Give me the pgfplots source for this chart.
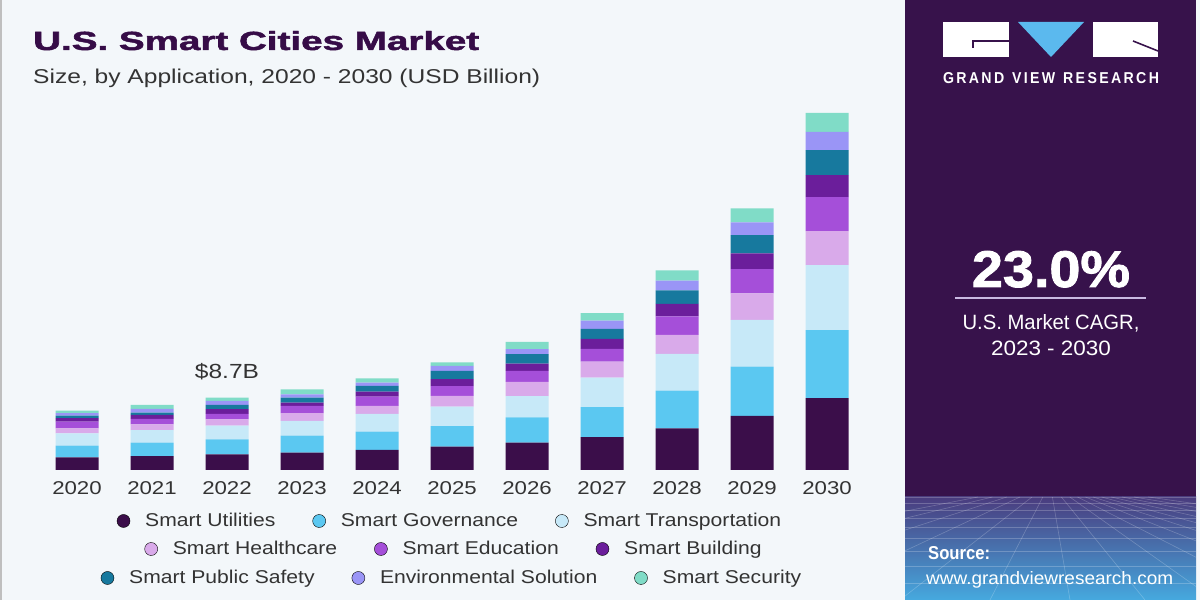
\documentclass[border=0pt]{standalone}
\usepackage{fontspec}
\setmainfont{Liberation Sans}
\newfontfamily\tickfont{Liberation Sans}[FakeStretch=1.2]
\newfontfamily\legfont{Liberation Sans}[FakeStretch=1.14]
\newfontfamily\heavyfont{Liberation Sans Bold}[FakeBold=1.6]
\usepackage{graphicx}
\usepackage{pgfplots}
\pgfplotsset{compat=1.18}
\usepackage{pgfplotstable}

\definecolor{bgleft}{HTML}{F3F7FA}
\definecolor{panel}{HTML}{37124B}
\definecolor{titlec}{HTML}{360C47}
\definecolor{txt}{HTML}{333333}
\definecolor{cUtil}{HTML}{3B0E4A}
\definecolor{cGov}{HTML}{5BC8F1}
\definecolor{cTrans}{HTML}{C7E9F8}
\definecolor{cHealth}{HTML}{D9AAEA}
\definecolor{cEdu}{HTML}{A54FD9}
\definecolor{cBuild}{HTML}{6B1E9B}
\definecolor{cPS}{HTML}{17799E}
\definecolor{cEnv}{HTML}{9A95F6}
\definecolor{cSec}{HTML}{80DCC7}
\definecolor{tri}{HTML}{5BB9EE}
\definecolor{gridtop}{HTML}{4A3C7E}
\definecolor{gridbot}{HTML}{46A9DF}
\definecolor{lineC}{HTML}{C9B9E2}

\pgfplotstableread{
x  util gov  trans health edu  build ps   env  sec
0  1.53 1.41 1.48  0.60   0.81 0.40  0.32 0.28 0.32
1  1.68 1.60 1.53  0.69   0.64 0.48  0.28 0.45 0.48
2  1.89 1.80 1.65  0.76   0.64 0.57  0.52 0.48 0.40
3  2.08 2.05 1.77  0.93   0.88 0.40  0.60 0.40 0.60
4  2.41 2.20 2.13  0.96   1.12 0.60  0.69 0.40 0.52
5  2.80 2.49 2.32  1.32   1.17 0.84  1.00 0.60 0.40
6  3.29 3.04 2.56  1.72   1.32 0.88  1.12 0.60 0.88
7  3.94 3.61 3.57  1.93   1.53 1.20  1.20 1.00 0.88
8  5.02 4.54 4.42  2.29   2.20 1.53  1.60 1.17 1.24
9  6.50 5.93 5.62  3.21   2.92 1.89  2.20 1.53 1.68
10 8.66 8.18 7.82  4.09   4.09 2.65  3.01 2.17 2.29
}\datatable

\pgfplotsset{
  legrow/.style={
    hide axis, scale only axis, width=10bp, height=10bp,
    xmin=0, xmax=1, ymin=0, ymax=1, anchor=center,
    legend style={at={(0.5,0.5)}, anchor=center, draw=none, fill=none,
      legend columns=3, font=\legfont\fontsize{18.6}{20}\selectfont, text=txt,
      /tikz/every even column/.append style={column sep=35bp},
      /tikz/every odd column/.append style={column sep=13bp}},
    legend image code/.code={\fill[##1] (6bp,0bp) circle (6.5bp);}
  }
}

\begin{document}
\begin{tikzpicture}[x=1bp,y=1bp]
% backgrounds
\fill[bgleft] (0,0) rectangle (1200,600);
\fill[black!25] (0,0) rectangle (2,600);
\fill[panel] (905,0) rectangle (1196,600);
\shade[top color=gridtop, bottom color=gridbot] (905,0) rectangle (1196,103);
\begin{scope}
\clip (905,0) rectangle (1196,103);
\foreach \yy in {103,97,90,82,73,62,49,34,17}
  \draw[white, opacity=0.22, line width=0.6bp] (905,\yy) -- (1196,\yy);
\foreach \xx in {-600,-480,-360,-250,-150,-60,20,95,165,230,295,360,430,510,600,700,820}
  \draw[white, opacity=0.22, line width=0.6bp] (1050+\xx*0.12,103) -- (1050+\xx,0);
\end{scope}

% titles
\node[anchor=base west, inner sep=0, text=titlec] at (33,550) {\resizebox{446bp}{19bp}{\heavyfont U.S. Smart Cities Market}};
\node[anchor=base west, inner sep=0, text=txt] at (33,516) {\resizebox{507bp}{14.5bp}{Size, by Application, 2020 - 2030 (USD Billion)}};

% logo
\fill[white] (943,578) rectangle (1009,543);
\draw[panel, line width=1.6bp] (973,552) -- (973,559) -- (1009,559);
\fill[tri] (1018,578) -- (1084,578) -- (1051,543) -- cycle;
\fill[white] (1093,578) rectangle (1158,543);
\draw[panel, line width=1.6bp] (1133,559) -- (1158,549);
\node[anchor=center, inner sep=0, text=white] at (1051,522) {\resizebox{216bp}{11bp}{\bfseries G\,R\,A\,N\,D\;\;V\,I\,E\,W\;\;R\,E\,S\,E\,A\,R\,C\,H}};

% CAGR
\node[anchor=base, inner sep=0, text=white] at (1051,313) {\resizebox{158bp}{36bp}{\heavyfont 23.0\%}};
\draw[lineC, line width=1.5bp] (955,302) -- (1146,302);
\node[anchor=base, inner sep=0, text=white] at (1051,270) {\resizebox{177bp}{15bp}{U.S. Market CAGR,}};
\node[anchor=base, inner sep=0, text=white] at (1051,244) {\resizebox{120bp}{14.5bp}{2023 - 2030}};

% source
\node[anchor=base west, inner sep=0, text=white] at (928,40) {\resizebox{62bp}{13bp}{\bfseries Source:}};
\node[anchor=base west, inner sep=0, text=white] at (926,15) {\resizebox{247bp}{13bp}{www.grandviewresearch.com}};

% main chart
\begin{axis}[
  at={(2bp,130bp)}, anchor=south west, scale only axis,
  width=900bp, height=374bp,
  xmin=-1, xmax=11, ymin=0, ymax=45,
  ybar stacked, bar width=43bp,
  axis x line*=bottom, axis y line=none,
  x axis line style={draw=none},
  xtick={0,1,2,3,4,5,6,7,8,9,10},
  xticklabels={2020,2021,2022,2023,2024,2025,2026,2027,2028,2029,2030},
  xtick style={draw=none},
  ytick=\empty,
  xticklabel style={font=\tickfont\fontsize{18.6}{20}\selectfont, text=txt, yshift=-8bp},
]
\addplot[fill=cUtil, draw=none] table[x=x, y=util]{\datatable};
\addplot[fill=cGov, draw=none] table[x=x, y=gov]{\datatable};
\addplot[fill=cTrans, draw=none] table[x=x, y=trans]{\datatable};
\addplot[fill=cHealth, draw=none] table[x=x, y=health]{\datatable};
\addplot[fill=cEdu, draw=none] table[x=x, y=edu]{\datatable};
\addplot[fill=cBuild, draw=none] table[x=x, y=build]{\datatable};
\addplot[fill=cPS, draw=none] table[x=x, y=ps]{\datatable};
\addplot[fill=cEnv, draw=none] table[x=x, y=env]{\datatable};
\addplot[fill=cSec, draw=none] table[x=x, y=sec]{\datatable};
\node[anchor=base, inner sep=0, text=txt, font=\tickfont\fontsize{20.5}{22}\selectfont] at ([yshift=19.5bp]axis cs:2,8.71) {\$8.7B};
\end{axis}

% legend rows
\begin{axis}[legrow, at={(450bp,79bp)}]
\addlegendimage{fill=cUtil}\addlegendentry{Smart Utilities}
\addlegendimage{fill=cGov}\addlegendentry{Smart Governance}
\addlegendimage{fill=cTrans}\addlegendentry{Smart Transportation}
\end{axis}
\begin{axis}[legrow, at={(454bp,51bp)}]
\addlegendimage{fill=cHealth}\addlegendentry{Smart Healthcare}
\addlegendimage{fill=cEdu}\addlegendentry{Smart Education}
\addlegendimage{fill=cBuild}\addlegendentry{Smart Building}
\end{axis}
\begin{axis}[legrow, at={(452bp,22bp)}]
\addlegendimage{fill=cPS}\addlegendentry{Smart Public Safety}
\addlegendimage{fill=cEnv}\addlegendentry{Environmental Solution}
\addlegendimage{fill=cSec}\addlegendentry{Smart Security}
\end{axis}
\end{tikzpicture}
\end{document}
